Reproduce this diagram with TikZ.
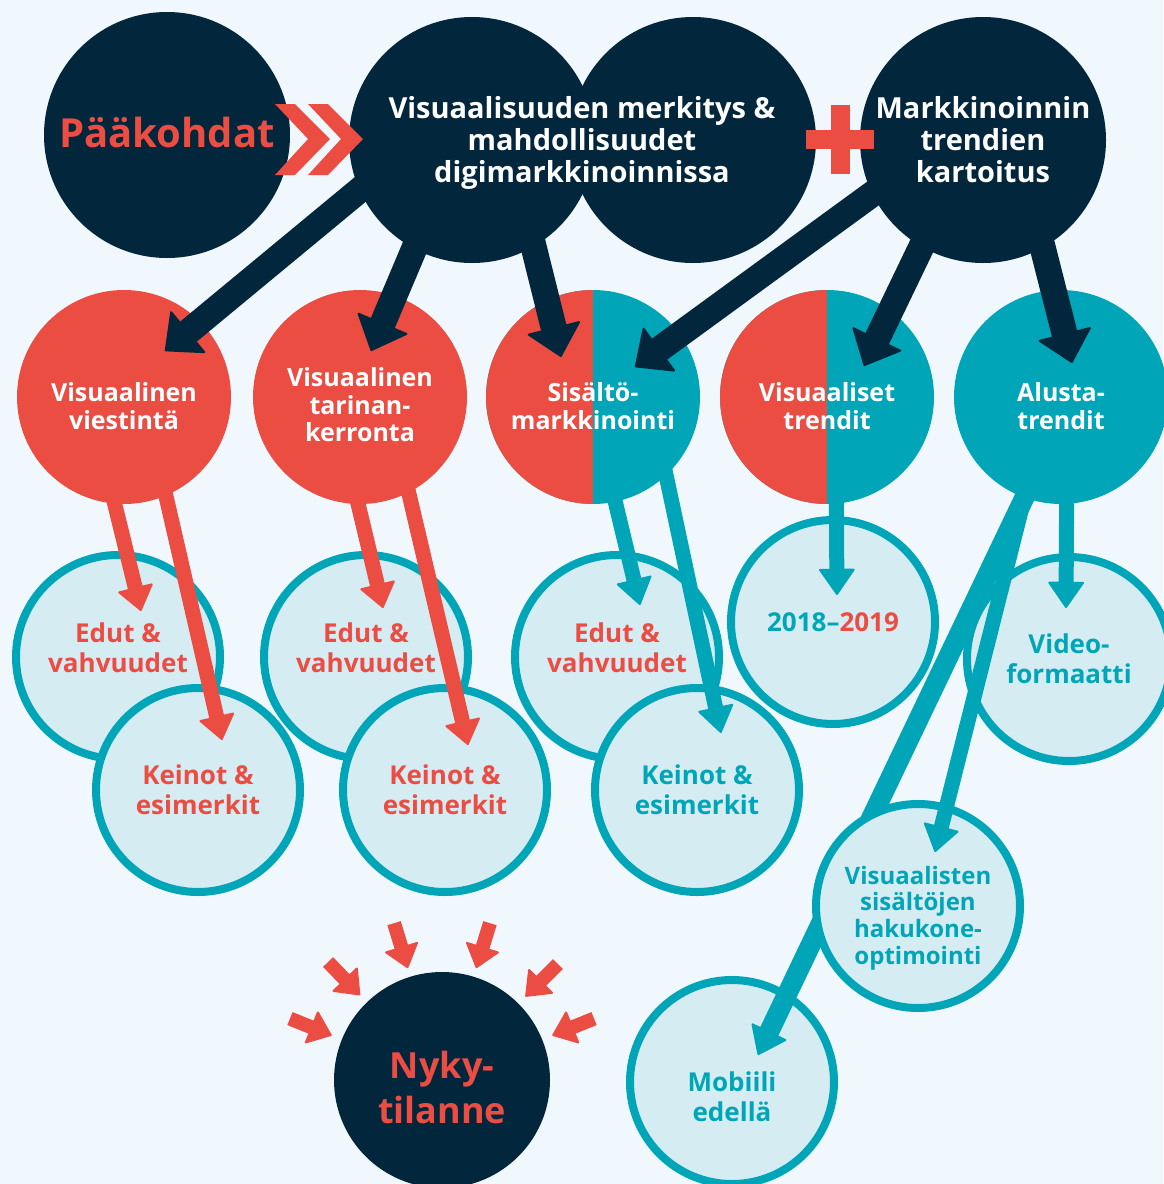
\documentclass[tikz,border=0pt]{standalone}
\usepackage{fontspec}
\setmainfont{Open Sans}
\usetikzlibrary{arrows.meta,calc}

\definecolor{navy}{HTML}{02263B}
\definecolor{tomato}{HTML}{EC4D43}
\definecolor{sea}{HTML}{00A6B8}
\definecolor{ice}{HTML}{D5ECF3}
\definecolor{paper}{HTML}{F0F8FD}

\tikzset{
  bigcirc/.style={circle, inner sep=0pt, minimum size=246pt, fill=navy},
  midcirc/.style={circle, inner sep=0pt, minimum size=214pt},
  lowcirc/.style={circle, inner sep=0pt, minimum size=204pt, fill=ice, draw=sea, line width=8pt},
  halfcirc/.style={midcirc, fill=sea,
    path picture={\fill[tomato] (path picture bounding box.south west) rectangle (path picture bounding box.north);}},
  every label/.style={align=center, inner sep=0pt},
  toptxt/.style={font=\bfseries\fontsize{29}{32}\selectfont, text=white, align=center},
  midtxt/.style={font=\bfseries\fontsize{25}{27.5}\selectfont, text=white},
  lowtxt/.style={font=\bfseries\fontsize{26}{30}\selectfont},
  smalltxt/.style={font=\bfseries\fontsize{24}{26.7}\selectfont, text=sea},
  hugetxt/.style={font=\bfseries\fontsize{40}{45}\selectfont, text=tomato, align=center},
  navyarr/.style={navy, line width=26pt, shorten <=-20pt,
    -{Triangle[width=56pt,length=31pt,line width=2pt,round]}},
  redarr/.style={tomato, line width=15pt, shorten <=-15pt,
    -{Triangle[width=37pt,length=25pt,line width=2pt,round]}},
  tealarr/.style={sea, line width=15pt, shorten <=-15pt,
    -{Triangle[width=37pt,length=27pt,line width=2pt,round]}},
  redsmall/.style={tomato, line width=14pt,
    -{Triangle[width=36pt,length=23pt,line width=2pt,round]}}
}

\begin{document}
\begin{tikzpicture}[x=1pt,y=-1pt]
\useasboundingbox (0,0) rectangle (1163,1184);
\fill[paper] (0,0) rectangle (1163,1184);

% lower row
\node[lowcirc, label={[lowtxt,text=tomato,yshift=9pt]center:Edut \&\\vahvuudet}] (edut1) at (118,657) {};
\node[lowcirc, label={[lowtxt,text=tomato]center:Keinot \&\\esimerkit}] (kein1) at (198,790) {};
\node[lowcirc, label={[lowtxt,text=tomato,yshift=9pt]center:Edut \&\\vahvuudet}] (edut2) at (366,657) {};
\node[lowcirc, label={[lowtxt,text=tomato]center:Keinot \&\\esimerkit}] (kein2) at (445,790) {};
\node[lowcirc, label={[lowtxt,text=tomato,yshift=9pt]center:Edut \&\\vahvuudet}] (edut3) at (617,657) {};
\node[lowcirc, label={[lowtxt,text=sea]center:Keinot \&\\esimerkit}] (kein3) at (697,790) {};
\node[lowcirc, label={[lowtxt]center:{\color{sea}2018–}{\color{tomato}2019}}] (vuosi) at (833,622) {};
\node[lowcirc, label={[lowtxt,text=sea]center:Video-\\formaatti}] (video) at (1069,659) {};
\node[lowcirc, label={[lowtxt,text=sea,yshift=-15pt]center:Mobiili\\edellä}] (mobi) at (732,1082) {};
\node[midcirc, fill=navy, minimum size=216pt, label={[hugetxt,font=\bfseries\fontsize{36}{45}\selectfont,yshift=-7pt]center:Nyky-\\tilanne}] (nyky) at (442,1080) {};

% middle row
\node[midcirc, fill=tomato, label={[midtxt,yshift=-9pt]center:Visuaalinen\\viestintä}] (vivi) at (124,397) {};
\node[midcirc, fill=tomato, label={[midtxt,yshift=-8pt]center:Visuaalinen\\tarinan-\\kerronta}] (tari) at (360,397) {};
\node[halfcirc, label={[midtxt,yshift=-9pt]center:Sisältö-\\markkinointi}] (sisa) at (593,397) {};
\node[halfcirc, label={[midtxt,yshift=-9pt]center:Visuaaliset\\trendit}] (vitr) at (827,397) {};
\node[midcirc, fill=sea, label={[midtxt,yshift=-9pt]center:Alusta-\\trendit}] (alus) at (1061,397) {};

\path[tealarr, line width=20pt, -{Triangle[width=40pt,length=27pt,line width=2pt,round]}]
  (alus.-110) edge ($(mobi)+(26,-27)$);
\node[lowcirc, label={[smalltxt,yshift=-12pt]center:Visuaalisten\\sisältöjen\\hakukone-\\optimointi}] (haku) at (918,906) {};

\path[redarr]
  (vivi.-95) edge ($(edut1)+(23,-46)$)
  (vivi.-67) edge ($(kein1)+(24,-50)$)
  (tari.-91) edge ($(edut2)+(17,-49)$)
  (tari.-63) edge ($(kein2)+(23,-45)$);
\path[tealarr]
  (sisa.-78) edge ($(edut3)+(23,-52)$)
  (sisa.-47) edge ($(kein3)+(24,-57)$)
  (vitr.-85) edge ($(vuosi)+(4,-27)$)
  (alus.-87) edge ($(video)+(-3,-51)$)
  (alus.-110) edge ($(haku)+(17,-54)$);

% top row
\node[bigcirc, label={[hugetxt,yshift=3pt]center:Pääkohdat}] (paa) at (167,135) {};
\node[bigcirc] (visA) at (472,140) {};
\node[bigcirc] (visB) at (693,140) {};
\node[toptxt] (vis) at (582,143) {Visuaalisuuden merkitys \&\\mahdollisuudet\\digimarkkinoinnissa};
\node[bigcirc, toptxt] (mark) at (983,140) {Markkinoinnin\\trendien\\kartoitus};

\path[navyarr]
  (visA.-156) edge ($(vivi)+(41,-46)$)
  (visA.-118.5) edge ($(tari)+(11,-46)$)
  (visA.-60) edge ($(sisa)+(-32,-40)$)
  (mark.-154) edge ($(sisa)+(42,-30)$)
  (mark.-120) edge ($(vitr)+(37,-31)$)
  (mark.-61) edge ($(alus)+(11,-34)$);

% chevrons and plus
\fill[tomato] (275,104) -- (295,104) -- (330,139) -- (295,175) -- (275,175) -- (308,139) -- cycle;
\fill[tomato] (308,104) -- (328,104) -- (363,139) -- (328,175) -- (308,175) -- (341,139) -- cycle;
\fill[tomato] (806,129.5) rectangle (874,148.5);
\fill[tomato] (830.5,105) rectangle (849.5,174);

% arrows round the present state
\path[redsmall]
  ($(nyky)+(158:164pt)$) edge ($(nyky)+(158:119pt)$)
  ($(nyky)+(134:164pt)$) edge ($(nyky)+(134:118pt)$)
  ($(nyky)+(107:164pt)$) edge ($(nyky)+(107:117pt)$)
  ($(nyky)+(73:164pt)$) edge ($(nyky)+(73:117pt)$)
  ($(nyky)+(45:164pt)$) edge ($(nyky)+(45:118pt)$)
  ($(nyky)+(22:164pt)$) edge ($(nyky)+(22:119pt)$);
\end{tikzpicture}
\end{document}
